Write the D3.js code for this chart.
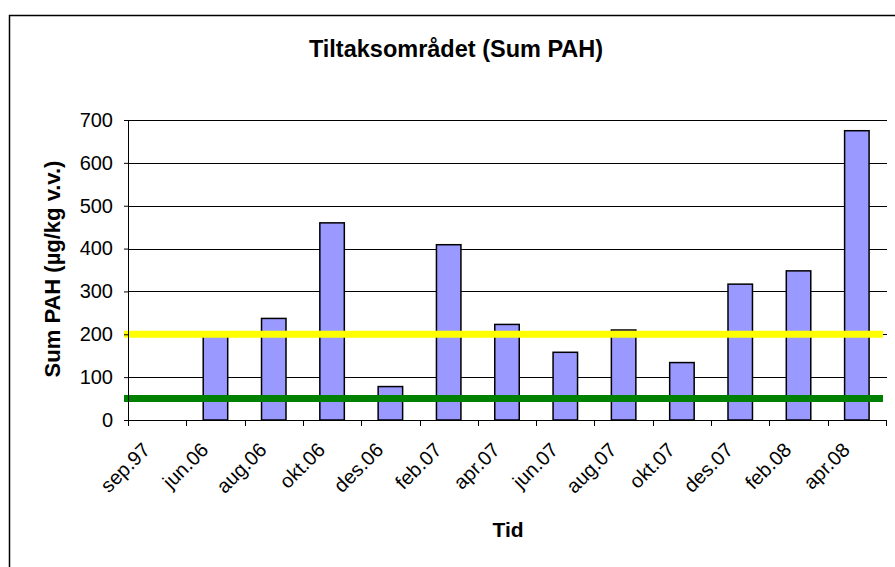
<!DOCTYPE html>
<html>
<head>
<meta charset="utf-8">
<script src="https://cdn.jsdelivr.net/npm/d3@7"></script>
<style>
  body { margin: 0; background: #fff; }
  text { font-family: "Liberation Sans", Arial, sans-serif; fill: #000; }
</style>
</head>
<body>
<div id="chart"></div>
<script>
// data
var categories = ['sep.97', 'jun.06', 'aug.06', 'okt.06', 'des.06', 'feb.07', 'apr.07',
    'jun.07', 'aug.07', 'okt.07', 'des.07', 'feb.08', 'apr.08'];
var sumPAH = [null, 196, 237, 460, 78, 409, 223, 158, 210, 134, 317, 348, 675];
var yTicks = [0, 100, 200, 300, 400, 500, 600, 700];
var limitLines = [
    { value: 200, color: '#ffff00' },
    { value: 50, color: '#008000' }
];

var width = 895,
    height = 567,
    margin = { left: 129, right: 8, top: 120, bottom: 147 };

var chartWidth = width - margin.left - margin.right;
var chartHeight = height - margin.top - margin.bottom;

var svg = d3.select('#chart').append('svg')
    .attr('width', width)
    .attr('height', height);

// outer frame (runs off the right and bottom edge like the original)
svg.append('rect')
    .attr('x', 9.5).attr('y', 15.5)
    .attr('width', 900).attr('height', 600)
    .attr('fill', 'none')
    .attr('stroke', '#000')
    .attr('stroke-width', 1.5);

var xScale = d3.scaleBand().domain(categories).range([0, chartWidth]).paddingInner(0).paddingOuter(0);
var yScale = d3.scaleLinear().domain([0, 700]).range([chartHeight, 0]);

var g = svg.append('g')
    .attr('transform', 'translate(' + margin.left + ',' + margin.top + ')');

// gridlines
g.selectAll('.grid').data(yTicks.filter(function (d) { return d > 0; })).enter()
    .append('line')
    .attr('x1', 0).attr('x2', chartWidth)
    .attr('y1', function (d) { return Math.round(yScale(d)) + 0.5; })
    .attr('y2', function (d) { return Math.round(yScale(d)) + 0.5; })
    .attr('stroke', '#000')
    .attr('stroke-width', 1);

// bars
var barW = xScale.bandwidth() * 0.42;
g.selectAll('.bar').data(categories.map(function (c, i) { return { key: c, value: sumPAH[i] }; })
        .filter(function (d) { return d.value != null; }))
    .enter().append('rect')
    .attr('class', 'bar')
    .attr('x', function (d) { return xScale(d.key) + xScale.bandwidth() / 2 - barW / 2 - 1; })
    .attr('y', function (d) { return yScale(d.value); })
    .attr('width', barW)
    .attr('height', function (d) { return chartHeight - yScale(d.value); })
    .attr('fill', '#9999ff')
    .attr('stroke', '#000')
    .attr('stroke-width', 1.5);

// limit lines
g.selectAll('.limit').data(limitLines).enter()
    .append('line')
    .attr('x1', -5).attr('x2', chartWidth - 4)
    .attr('y1', function (d) { return yScale(d.value); })
    .attr('y2', function (d) { return yScale(d.value); })
    .attr('stroke', function (d) { return d.color; })
    .attr('stroke-width', 7);

// y axis
var yAxis = d3.axisLeft(yScale).tickValues(yTicks).tickSize(5).tickPadding(11);
var yG = g.append('g').call(yAxis);
yG.select('.domain').attr('d', 'M-0.5,' + (chartHeight + 0.5) + 'V0');
yG.selectAll('text').style('font-size', '20px').attr('font-family', null);
yG.selectAll('line, path').attr('stroke', '#000');

// x axis with ticks between categories
var xAxisG = g.append('g').attr('transform', 'translate(0,' + chartHeight + ')');
xAxisG.append('line')
    .attr('x1', -5).attr('x2', chartWidth)
    .attr('y1', 0.5).attr('y2', 0.5)
    .attr('stroke', '#000');
xAxisG.selectAll('.tick').data(categories.concat(['end'])).enter()
    .append('line')
    .attr('x1', function (d, i) { return Math.round(i * xScale.step()) - 0.5; })
    .attr('x2', function (d, i) { return Math.round(i * xScale.step()) - 0.5; })
    .attr('y1', 0).attr('y2', 6)
    .attr('stroke', '#000');
xAxisG.selectAll('.label').data(categories).enter()
    .append('text')
    .attr('transform', function (d) {
        return 'translate(' + (xScale(d) + xScale.bandwidth() / 2 - 17) + ',21) rotate(-45)';
    })
    .attr('text-anchor', 'end')
    .attr('dy', '0.72em')
    .style('font-size', '20px')
    .text(function (d) { return d; });

// titles
svg.append('text')
    .attr('x', 456).attr('y', 57)
    .attr('text-anchor', 'middle')
    .style('font-size', '23.5px')
    .style('font-weight', 'bold')
    .text('Tiltaksområdet (Sum PAH)');

svg.append('text')
    .attr('transform', 'translate(60,' + 269 + ') rotate(-90)')
    .attr('text-anchor', 'middle')
    .style('font-size', '22px')
    .style('font-weight', 'bold')
    .text('Sum PAH (µg/kg v.v.)');

svg.append('text')
    .attr('x', margin.left + chartWidth / 2).attr('y', 537)
    .attr('text-anchor', 'middle')
    .style('font-size', '21px')
    .style('font-weight', 'bold')
    .text('Tid');
</script>
</body>
</html>
